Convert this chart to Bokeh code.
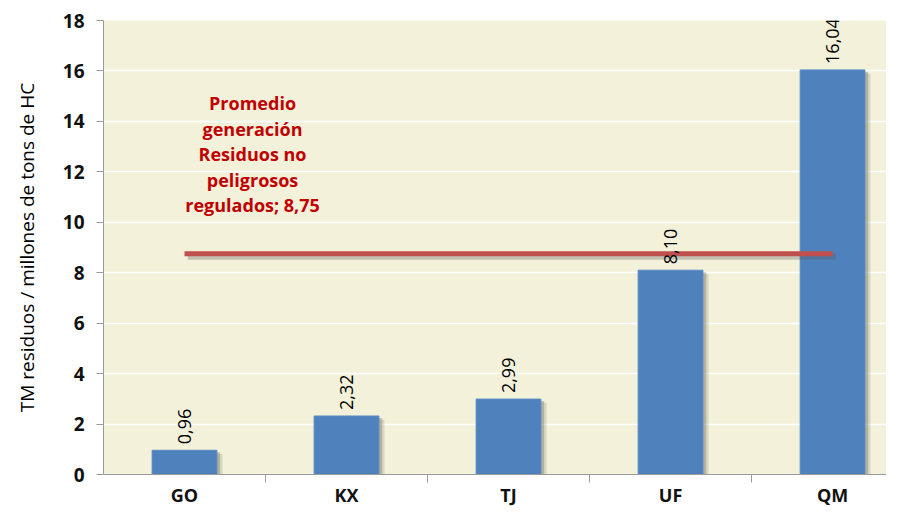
from bokeh.plotting import figure
from bokeh.models import Range1d, FixedTicker, ColumnDataSource
from bokeh.core.properties import value
from bokeh.embed import file_html
from bokeh.resources import INLINE
import math

categories = ["GO", "KX", "TJ", "UF", "QM"]
values = [0.96, 2.32, 2.99, 8.10, 16.04]
value_labels = ["0,96", "2,32", "2,99", "8,10", "16,04"]
average = 8.75
average_text = ["Promedio", "generación", "Residuos no", "peligrosos", "regulados; 8,75"]
y_ticks = list(range(0, 19, 2))

xs = list(range(len(categories)))

p = figure(width=886, height=509, output_backend="svg", toolbar_location=None,
           x_range=Range1d(-0.5, 4.333), y_range=Range1d(0, 18),
           min_border_left=103, min_border_right=0, min_border_top=20, min_border_bottom=31)
p.background_fill_color = "#F3F1DA"
p.border_fill_color = "white"
p.outline_line_color = None

# grid
p.xgrid.grid_line_color = None
p.ygrid.grid_line_color = "white"
p.ygrid.grid_line_width = 1.5
p.ygrid.ticker = FixedTicker(ticks=y_ticks)

# shadows
src = ColumnDataSource(dict(x=xs, top=values, lab=value_labels))
p.vbar(x=[x + 0.035 for x in xs], top=[v - 0.15 for v in values], width=0.40,
       fill_color="#8a8a78", fill_alpha=0.25, line_color=None)
p.vbar(x=[x + 0.02 for x in xs], top=[v - 0.08 for v in values], width=0.40,
       fill_color="#6a6a5a", fill_alpha=0.35, line_color=None)
# bars
p.vbar(x="x", top="top", width=0.40, source=src, fill_color="#4F81BD",
       line_color="#5A8AC6", line_width=1)

# average line with shadow
p.line(x=[0.02, 4.02], y=[average - 0.12, average - 0.12], line_color="#555555",
       line_alpha=0.3, line_width=6)
p.line(x=[0, 4], y=[average, average], line_color="#C0504D", line_width=5)

# value labels
p.text(x="x", y="top", text="lab", source=src, angle=math.pi / 2,
       text_align="left", text_baseline="middle", x_offset=0, y_offset=-6,
       text_font=value("Open Sans"), text_font_size="18px", text_color="#000000")

# annotation
ann_y = [14.72 - i * 1.01 for i in range(len(average_text))]
p.text(x=[0.42] * len(average_text), y=ann_y, text=average_text,
       text_align="center", text_baseline="middle",
       text_font=value("Open Sans"), text_font_style="bold",
       text_font_size="18px", text_color="#C00000")

# axes
p.yaxis.ticker = FixedTicker(ticks=y_ticks)
p.yaxis.axis_label = "TM residuos / millones de tons de HC"
p.yaxis.axis_label_text_font = "Open Sans"
p.yaxis.axis_label_text_font_style = "normal"
p.yaxis.axis_label_text_font_size = "19px"
p.yaxis.axis_label_text_color = "#000000"
p.yaxis.axis_label_standoff = 20
p.yaxis.major_label_text_font = "Open Sans"
p.yaxis.major_label_text_font_style = "bold"
p.yaxis.major_label_text_font_size = "19px"
p.yaxis.major_label_text_color = "#111111"
p.yaxis.axis_line_color = "#9a9a9a"
p.yaxis.major_tick_line_color = "#9a9a9a"
p.yaxis.major_tick_out = 7
p.yaxis.major_tick_in = 0
p.yaxis.minor_tick_line_color = None
p.yaxis.major_label_standoff = 12

p.xaxis.ticker = FixedTicker(ticks=xs, minor_ticks=[0.5, 1.5, 2.5, 3.5, 4.5])
p.xaxis.major_label_overrides = {i: c for i, c in enumerate(categories)}
p.xaxis.major_label_text_font = "Open Sans"
p.xaxis.major_label_text_font_style = "bold"
p.xaxis.major_label_text_font_size = "18px"
p.xaxis.major_label_text_color = "#111111"
p.xaxis.major_tick_line_color = None
p.xaxis.minor_tick_line_color = "#9a9a9a"
p.xaxis.minor_tick_out = 8
p.xaxis.minor_tick_in = 0
p.xaxis.axis_line_color = "#9a9a9a"
p.xaxis.major_label_standoff = 0

open("out.html", "w").write(file_html(p, INLINE))
